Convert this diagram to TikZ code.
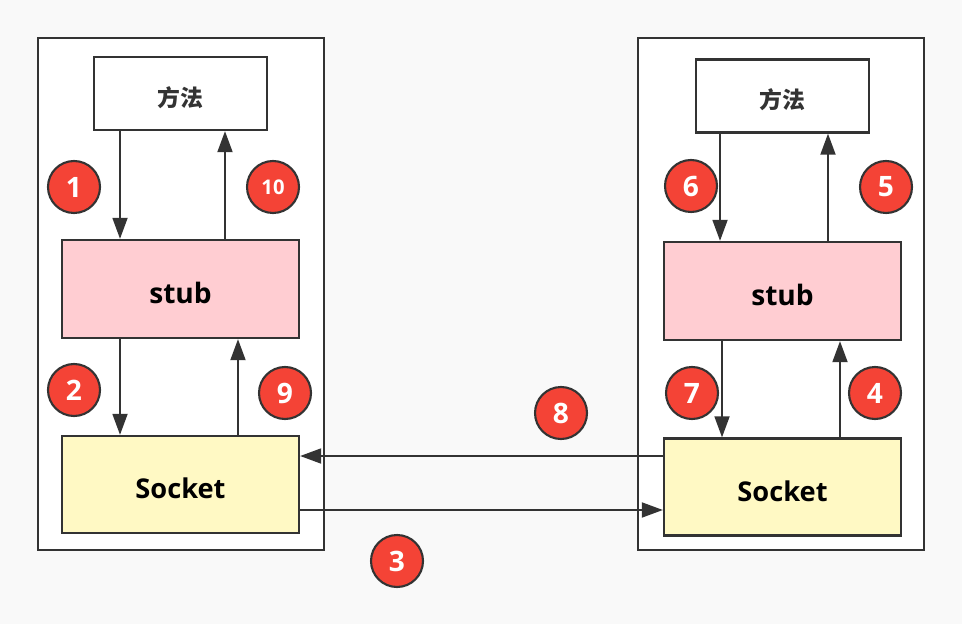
\documentclass[tikz,border=0pt]{standalone}
\usepackage{fontspec}
\setmainfont{Open Sans}
\newfontfamily\cjk{Noto Sans CJK SC}
\usetikzlibrary{arrows.meta}

\definecolor{bgc}{RGB}{249,249,249}
\definecolor{linec}{RGB}{51,51,51}
\definecolor{stubc}{RGB}{255,205,210}
\definecolor{sockc}{RGB}{255,249,196}
\definecolor{dotc}{RGB}{244,67,54}

\begin{document}
\begin{tikzpicture}[x=0.02cm,y=-0.02cm,
    side/.style={draw=linec,line width=1.5pt,fill=white,minimum width=5.72cm,minimum height=10.24cm},
    method/.style={draw=linec,line width=1.3pt,fill=white,minimum width=3.46cm,minimum height=1.46cm,text=linec,text height=14.6pt,text depth=0pt,font=\cjk\bfseries\fontsize{13}{15}\selectfont},
    stubbox/.style={draw=linec,line width=1.3pt,fill=stubc,minimum width=4.74cm,minimum height=1.96cm,text height=17pt,text depth=0pt,font=\bfseries\fontsize{16}{19}\selectfont},
    sockbox/.style={draw=linec,line width=1.3pt,fill=sockc,minimum width=4.74cm,minimum height=1.94cm,text height=16pt,text depth=0pt,font=\bfseries\fontsize{15.5}{19}\selectfont},
    num/.style={circle,draw=linec,line width=1.2pt,fill=dotc,minimum size=1.04cm,inner sep=0pt,text=white,font=\bfseries\fontsize{16}{19}\selectfont},
    arr/.style={draw=linec,line width=1.2pt,-{Triangle[length=12pt,width=8.5pt]}}]

    % background
    \fill[bgc] (0,0) rectangle (962,624);

    % client side
    \node[side] (sideL) at (181,294) {};
    \node[method] (mthL) at (180.5,93.5) {方法};
    \node[stubbox] (stubL) at (180.5,289) {stub};
    \node[sockbox] (sockL) at (180.5,484.5) {Socket};

    % server side
    \node[side] (sideR) at (781,294) {};
    \node[method] (mthR) at (782.5,96) {方法};
    \node[stubbox] (stubR) at (782.5,291) {stub};
    \node[sockbox] (sockR) at (782.5,487) {Socket};

    % calls inside the client
    \draw[arr] ([xshift=-1.21cm]mthL.south) -- ([xshift=-1.21cm]mthL.south |- stubL.north);
    \draw[arr] ([xshift=-1.21cm]stubL.south) -- ([xshift=-1.21cm]stubL.south |- sockL.north);
    \draw[arr] ([xshift=1.15cm]sockL.north) -- ([xshift=1.15cm]sockL.north |- stubL.south);
    \draw[arr] ([xshift=0.89cm]stubL.north) -- ([xshift=0.89cm]stubL.north |- mthL.south);

    % calls inside the server
    \draw[arr] ([xshift=-1.25cm]mthR.south) -- ([xshift=-1.25cm]mthR.south |- stubR.north);
    \draw[arr] ([xshift=-1.21cm]stubR.south) -- ([xshift=-1.21cm]stubR.south |- sockR.north);
    \draw[arr] ([xshift=1.15cm]sockR.north) -- ([xshift=1.15cm]sockR.north |- stubR.south);
    \draw[arr] ([xshift=0.91cm]stubR.north) -- ([xshift=0.91cm]stubR.north |- mthR.south);

    % network
    \draw[arr] ([yshift=0.62cm]sockR.west) -- ([yshift=0.62cm]sockR.west -| sockL.east);
    \draw[arr] ([yshift=-0.51cm]sockL.east) -- ([yshift=-0.51cm]sockL.east -| sockR.west);

    % step numbers
    \node[num] (n1) at (74,187) {1};
    \node[num] (n2) at (74,390) {2};
    \node[num] (n3) at (397,561) {3};
    \node[num] (n4) at (875,393) {4};
    \node[num] (n5) at (886,187) {5};
    \node[num] (n6) at (691,186) {6};
    \node[num] (n7) at (692,393) {7};
    \node[num] (n8) at (561,413) {8};
    \node[num] (n9) at (285,393) {9};
    \node[num,font=\bfseries\fontsize{11.5}{14}\selectfont] (n10) at (273,187) {10};

\end{tikzpicture}
\end{document}
